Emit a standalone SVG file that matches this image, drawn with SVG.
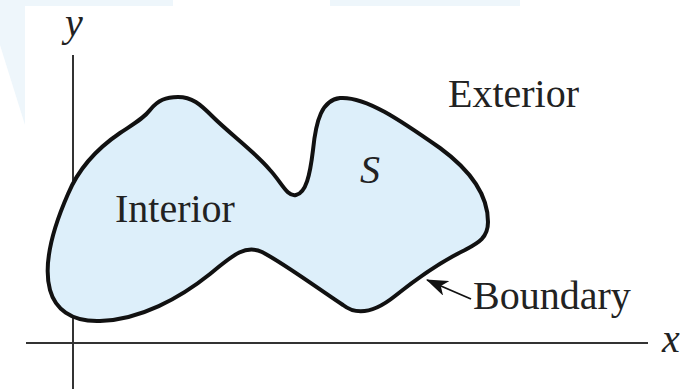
<svg xmlns="http://www.w3.org/2000/svg" width="690" height="389" viewBox="0 0 690 389">
  <style>
    .lbl { font-family: "Liberation Serif", "Times New Roman", serif; font-size: 40px; fill: #222; }
    .it { font-style: italic; }
    .axis { stroke: #333; stroke-width: 2; fill: none; }
    .wm { fill: #eef6fb; }
  </style>
  <defs>
    <marker id="arrow" viewBox="0 0 22 16" refX="21" refY="8" markerWidth="22" markerHeight="16" markerUnits="userSpaceOnUse" orient="auto">
      <path d="M0,0 L22,8 L0,16 L6,8 Z" fill="#111"/>
    </marker>
  </defs>
  <rect width="690" height="389" fill="#ffffff"/>
  <g id="watermark">
    <polygon class="wm" points="0,0 173,0 173,6 25,6 25,125 0,45"/>
    <rect class="wm" x="330" y="0" width="190" height="6"/>
  </g>
  <g id="axes">
    <line class="axis" x1="73" y1="55" x2="73" y2="389"/>
    <line class="axis" x1="26" y1="343" x2="648" y2="343"/>
    <text class="lbl it" x="65" y="36">y</text>
    <text class="lbl it" x="662" y="352">x</text>
  </g>
  <g id="region-S">
    <path d="M68,194 C78,170 95,150 120,133 C135,123 144,118 150,110 C158,100 166,97 178,97 C192,97 200,104 212,116 C230,134 255,152 270,170 C282,183 287,197 296,195 C306,193 310,175 313,150 C316,120 322,100 340,98 C365,96 400,120 440,148 C470,170 488,195 488,222 C488,238 478,243 465,250 C440,262 415,280 395,296 C375,312 357,316 343,305 C320,290 285,264 262,252 C245,244 232,256 210,274 C180,298 140,320 100,321 C70,322 55,308 50,290 C44,268 50,235 68,194 Z" fill="#ddeffa" stroke="#111" stroke-width="4" stroke-linejoin="round"/>
    <text class="lbl" x="115" y="222">Interior</text>
    <text class="lbl it" x="360" y="183">S</text>
  </g>
  <g id="exterior">
    <text class="lbl" x="448" y="107">Exterior</text>
  </g>
  <g id="connectors">
    <line x1="471" y1="299" x2="427" y2="280" stroke="#111" stroke-width="1.8" marker-end="url(#arrow)"/>
  </g>
  <g id="boundary">
    <text class="lbl" x="473" y="309">Boundary</text>
  </g>
</svg>
